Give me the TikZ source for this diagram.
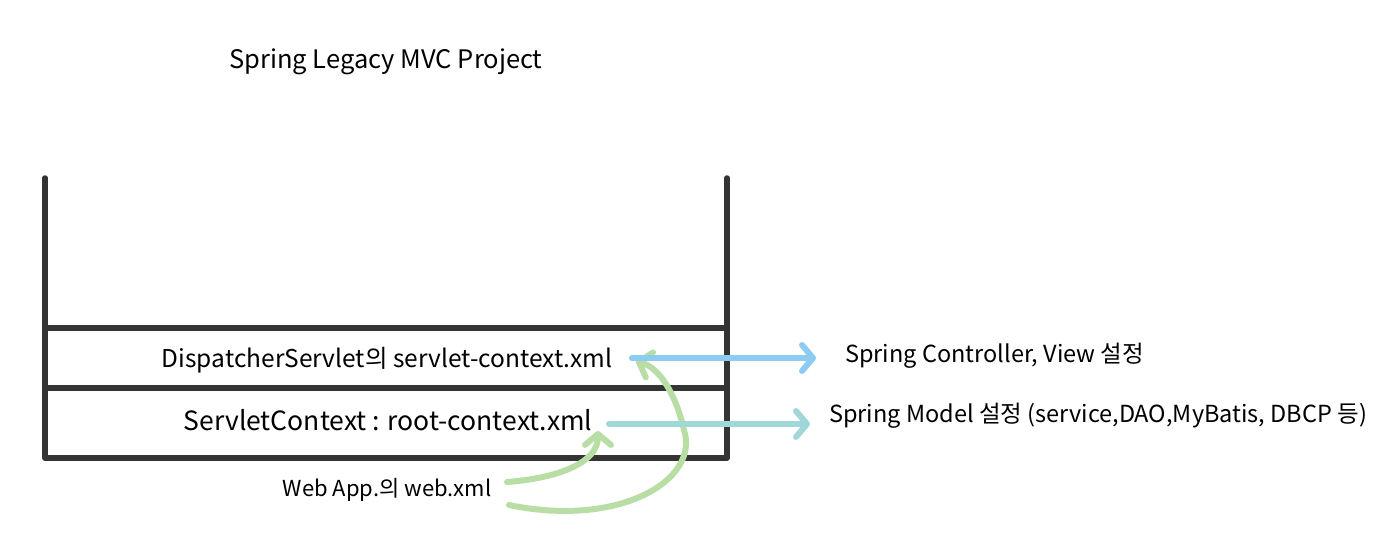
\documentclass[tikz,border=0pt]{standalone}
\usepackage{fontspec}
\setmainfont{Noto Sans CJK KR}
\usetikzlibrary{arrows.meta}
\definecolor{wallc}{HTML}{343434}
\definecolor{bluec}{HTML}{8CCBF2}
\definecolor{tealc}{HTML}{A0D8DA}
\definecolor{greenc}{HTML}{B8DEA6}
\tikzset{
  wall/.style={draw=wallc, line width=5.5pt, line cap=round, line join=round},
  lbl/.style={inner sep=0pt, font=\fontsize{24.5}{28}\selectfont, text=black},
  arr/.style={line width=6pt, line cap=round, -{Straight Barb[length=11pt,width=26pt,line width=6pt, round]}},
  bluearr/.style={arr, draw=bluec},
  tealarr/.style={arr, draw=tealc},
  greenarr/.style={arr, draw=greenc},
}
\begin{document}
\begin{tikzpicture}[x=1pt,y=-1pt]
\useasboundingbox (0,0) rectangle (1392,556);
\fill[white] (0,0) rectangle (1392,556);
\node[lbl, font=\fontsize{25.5}{28}\selectfont] (title) at (386,62) {Spring Legacy MVC Project};
\coordinate (tl) at (45,178);
\coordinate (tr) at (727,178);
\coordinate (bl) at (45,458);
\coordinate (br) at (727,458);
\coordinate (m1l) at (45,328);
\coordinate (m1r) at (727,328);
\coordinate (m2l) at (45,388);
\coordinate (m2r) at (727,388);
\draw[wall] (tl) -- (bl) -- (br) -- (tr);
\draw[wall] (m1l) -- (m1r);
\draw[wall] (m2l) -- (m2r);
\node[lbl] (disp) at (387,360) {DispatcherServlet의 servlet-context.xml};
\node[lbl, font=\fontsize{26.5}{30}\selectfont] (root) at (388,420) {ServletContext : root-context.xml};
\node[lbl, font=\fontsize{22}{26}\selectfont] (web) at (387,490) {Web App.의 web.xml};
\node[lbl,anchor=west, font=\fontsize{23.5}{28}\selectfont] (ctrl) at (845,356) {Spring Controller, View 설정};
\node[lbl,anchor=west, font=\fontsize{23.5}{28}\selectfont] (model) at (829,416) {Spring Model 설정 (service,DAO,MyBatis, DBCP 등)};
\coordinate (b1s) at (632,358);
\coordinate (b1e) at (816,358);
\coordinate (t1s) at (609,424);
\coordinate (t1e) at (810,424);
\coordinate (g1s) at (507,482);
\coordinate (g1e) at (598,431);
\coordinate (g2s) at (509,505);
\coordinate (g2e) at (636,361);
\draw[greenarr] (g1s) .. controls (560,478) and (598,462) .. (g1e);
\draw[greenarr] (g2s) .. controls (620,528) and (700,480) .. (684,430) .. controls (676,395) and (660,368) .. (g2e);
\draw[bluearr] (b1s) -- (b1e);
\draw[tealarr] (t1s) -- (t1e);
\end{tikzpicture}
\end{document}
